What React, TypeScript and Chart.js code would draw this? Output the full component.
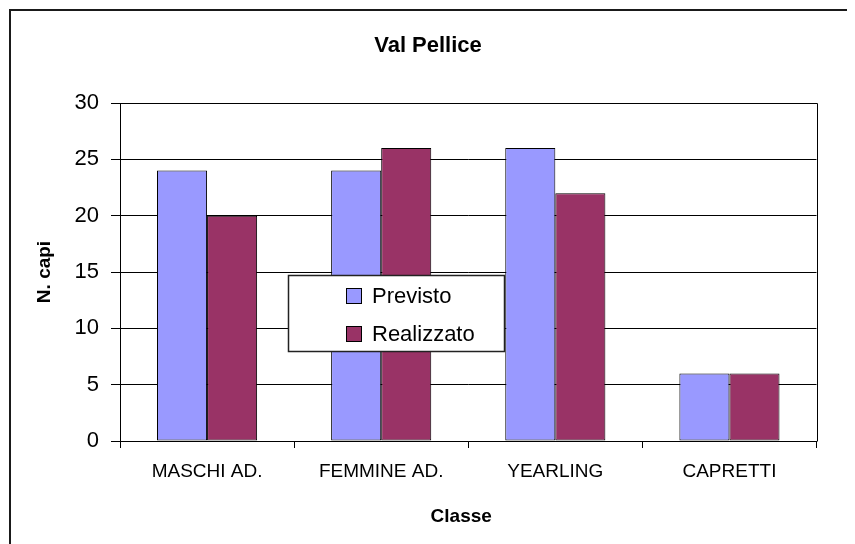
import React, { useEffect, useRef } from "react";
import { Chart, registerables } from "chart.js";

Chart.register(...registerables);

const categories = ["MASCHI AD.", "FEMMINE AD.", "YEARLING", "CAPRETTI"];
const seriesNames = ["Previsto", "Realizzato"];
const previsto = [24, 24, 26, 6];
const realizzato = [20, 26, 22, 6];
const seriesColors = ["#9999FF", "#993366"];
const yMin = 0;
const yMax = 30;
const yStep = 5;
const chartTitle = "Val Pellice";
const xTitle = "Classe";
const yTitle = "N. capi";

const FONT = 'Arial, "Liberation Sans", sans-serif';

const framePlugin = {
  id: "frame",
  afterDraw(chart: any) {
    const { ctx, chartArea: a } = chart;
    ctx.save();
    ctx.strokeStyle = "#000";
    ctx.lineWidth = 1;
    ctx.beginPath();
    ctx.moveTo(Math.round(a.left) + 0.5, Math.round(a.top) + 0.5);
    ctx.lineTo(Math.round(a.right) + 0.5, Math.round(a.top) + 0.5);
    ctx.lineTo(Math.round(a.right) + 0.5, Math.round(a.bottom) + 0.5);
    ctx.stroke();

    // chart title and x-axis title
    ctx.fillStyle = "#000";
    ctx.textAlign = "center";
    ctx.textBaseline = "middle";
    ctx.font = `bold 22px ${FONT}`;
    ctx.fillText(chartTitle, chart.width / 2 - 5, 35);
    ctx.font = `bold 19px ${FONT}`;
    ctx.fillText(xTitle, (a.left + a.right) / 2 - 7, a.bottom + 76);

    // legend box inside the plot
    const w = a.right - a.left;
    const h = a.bottom - a.top;
    const x0 = Math.round(a.left + w * 0.2414);
    const y0 = Math.round(a.top + h * 0.509);
    const bw = 216;
    const bh = 76;
    ctx.fillStyle = "#fff";
    ctx.fillRect(x0, y0, bw, bh);
    ctx.strokeStyle = "#222";
    ctx.lineWidth = 1.5;
    ctx.strokeRect(x0 + 0.5, y0 + 0.5, bw, bh);
    ctx.font = `22px ${FONT}`;
    ctx.textBaseline = "middle";
    ctx.textAlign = "left";
    seriesNames.forEach((name, i) => {
      const my = y0 + 13 + i * 38;
      ctx.fillStyle = seriesColors[i];
      ctx.fillRect(x0 + 58, my, 15, 15);
      ctx.strokeStyle = "#000";
      ctx.lineWidth = 1;
      ctx.strokeRect(x0 + 58 + 0.5, my + 0.5, 15, 15);
      ctx.fillStyle = "#000";
      ctx.fillText(name, x0 + 84, my + 8.5);
    });
    ctx.restore();
  },
};

export default function App() {
  const ref = useRef<HTMLCanvasElement | null>(null);
  useEffect(() => {
    document.documentElement.style.overflow = "hidden";
    document.body.style.overflow = "hidden";
    const chart = new Chart(ref.current as HTMLCanvasElement, {
      type: "bar",
      data: {
        labels: categories,
        datasets: [
          {
            label: seriesNames[0],
            data: previsto,
            backgroundColor: seriesColors[0],
            borderColor: "#000",
            borderWidth: 1,
            borderSkipped: false,
            categoryPercentage: 0.575,
            barPercentage: 1,
          },
          {
            label: seriesNames[1],
            data: realizzato,
            backgroundColor: seriesColors[1],
            borderColor: "#000",
            borderWidth: 1,
            borderSkipped: false,
            categoryPercentage: 0.575,
            barPercentage: 1,
          },
        ],
      },
      options: {
        responsive: true,
        maintainAspectRatio: false,
        animation: false,
        layout: { padding: { left: 0, right: 38.5, top: 92, bottom: 0 } },
        plugins: {
          legend: { display: false },
          tooltip: { enabled: false },
          title: { display: false },
        },
        scales: {
          x: {
            offset: true,
            afterFit(scale: any) {
              scale.height = 103;
            },
            grid: {
              display: true,
              drawOnChartArea: false,
              drawTicks: true,
              tickLength: 7,
              color: "#000",
              offset: true,
            },
            border: { display: true, color: "#000", width: 1 },
            ticks: {
              color: "#000",
              font: { family: FONT, size: 19 },
              padding: 12,
              maxRotation: 0,
            },
            title: { display: false },
          },
          y: {
            min: yMin,
            max: yMax,
            afterFit(scale: any) {
              scale.width = 109;
            },
            grid: {
              display: true,
              drawOnChartArea: true,
              drawTicks: true,
              tickLength: 9,
              color: "#000",
            },
            border: { display: true, color: "#000", width: 1 },
            ticks: {
              stepSize: yStep,
              color: "#000",
              font: { family: FONT, size: 22 },
              padding: 12,
            },
            title: {
              display: true,
              text: yTitle,
              color: "#000",
              font: { family: FONT, size: 19, weight: "bold" },
              padding: { top: 22.6, bottom: 0 },
            },
          },
        },
      },
      plugins: [framePlugin],
    } as any);
    return () => chart.destroy();
  }, []);

  return (
    <div
      style={{
        marginLeft: 1,
        marginTop: 1,
        borderLeft: "2px solid #1a1a1a",
        borderTop: "2px solid #1a1a1a",
        width: 844,
        height: 533,
        position: "relative",
        background: "#fff",
      }}
    >
      <canvas ref={ref} />
    </div>
  );
}
